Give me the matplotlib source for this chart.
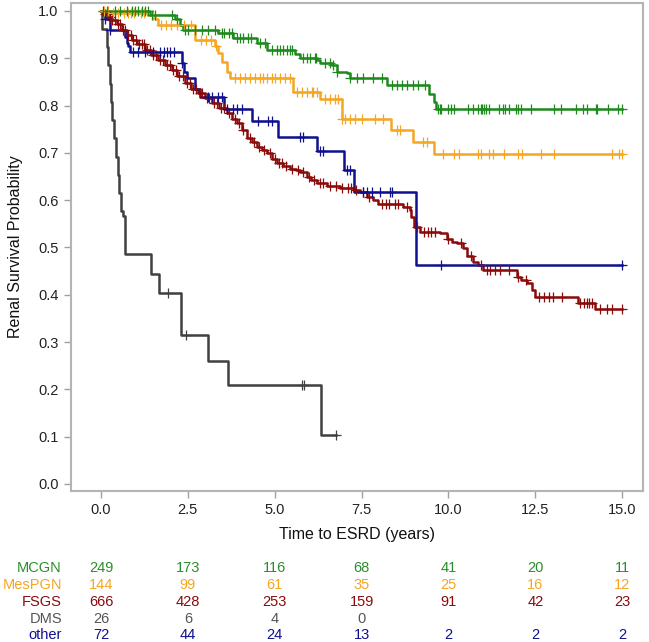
import numpy as np
import matplotlib
matplotlib.use('Agg')
import matplotlib.pyplot as plt
import matplotlib.transforms as mtransforms

plt.rcParams['font.family'] = ['Liberation Sans', 'DejaVu Sans']

# ---- data ----
groups = ['MCGN', 'MesPGN', 'FSGS', 'DMS', 'other']
colors = ['#1e8a1e', '#f5a623', '#8b0a0a', '#404040', '#10108f']

mcgn_t = [0, 1.41, 2.13, 2.27, 2.37, 3.38, 3.81, 4.48, 4.77, 5.59, 5.73, 6.21, 6.31,
          6.64, 6.78, 7.07, 7.17, 8.22, 9.43, 9.57, 9.64]
mcgn_s = [1.0, 0.991, 0.984, 0.970, 0.960, 0.953, 0.942, 0.932, 0.918, 0.910, 0.900,
          0.896, 0.889, 0.886, 0.872, 0.868, 0.858, 0.844, 0.824, 0.808, 0.792]
mcgn_cens = [0.16, 0.4, 0.55, 0.74, 0.88, 0.98, 1.07, 1.17, 1.27, 1.36, 1.46, 1.55,
             2.03, 2.18, 2.42, 2.51, 2.71, 2.9, 3.09, 3.28, 3.47, 3.53, 3.67, 3.76,
             3.9, 4.0, 4.08, 4.24, 4.33, 4.58, 4.72, 4.91, 5.06, 5.15, 5.25, 5.35,
             5.44, 5.49, 5.82, 5.92, 6.02, 6.16, 6.2, 6.45, 6.59, 6.69, 6.78, 7.17,
             7.36, 7.55, 7.84, 8.08, 8.37, 8.51, 8.66, 8.8, 8.99, 9.13, 9.33, 9.7,
             9.75, 9.8, 9.98, 10.07, 10.17, 10.55, 10.7, 10.84, 10.94, 10.98, 11.03,
             11.08, 11.17, 11.46, 11.56, 11.62, 11.75, 11.94, 11.99, 12.08, 12.37,
             13.04, 13.23, 13.66, 13.86, 14.0, 14.24, 14.29, 14.58, 14.87, 15.0]

mespgn_t = [0, 0.21, 1.36, 1.55, 1.65, 2.71, 3.28, 3.38, 3.47, 3.62, 3.71, 5.54,
            6.31, 6.93, 8.34, 8.99, 9.57]
mespgn_s = [1.0, 0.995, 0.991, 0.984, 0.970, 0.939, 0.925, 0.911, 0.893, 0.872,
            0.858, 0.828, 0.813, 0.772, 0.748, 0.724, 0.697]
mespgn_cens = [0.1, 0.2, 0.34, 0.48, 0.67, 0.77, 0.86, 0.96, 1.15, 1.25, 1.49,
               1.73, 1.87, 2.01, 2.2, 2.39, 2.59, 2.88, 3.02, 3.17, 3.31,
               3.86, 4.0, 4.14, 4.29, 4.43, 4.58, 4.67, 4.77, 4.91, 5.01, 5.15,
               5.3, 5.44, 5.63, 5.78, 5.92, 6.07, 6.11, 6.21, 6.45, 6.59, 6.74,
               6.83, 6.93, 7.03, 7.17, 7.31, 7.5, 7.89, 8.13, 8.51, 8.61, 9.28,
               9.38, 9.84, 10.17, 10.31, 10.84, 10.94, 11.17, 11.27, 11.6, 11.99,
               12.12, 12.66, 13.04, 14.71, 14.9, 15.0]

fsgs_t = [0, 0.1, 0.2, 0.31, 0.45, 0.6, 0.75, 0.88, 1.05, 1.27, 1.45, 1.65, 1.85,
          2.03, 2.2, 2.42, 2.6, 2.8, 3.0, 3.19, 3.4, 3.62, 3.78, 3.91, 4.05, 4.2,
          4.35, 4.48, 4.62, 4.77, 4.92, 5.06, 5.25, 5.44, 5.6, 5.73, 5.92, 6.05,
          6.21, 6.5, 6.88, 7.27, 7.46, 7.65, 7.84, 7.98, 8.7, 8.9, 8.93, 9.0, 9.18,
          9.76, 9.95, 10.1, 10.24, 10.43, 10.53, 10.72, 10.85, 11.0, 11.97, 12.1,
          12.26, 12.4, 12.5, 13.74, 14.22]
fsgs_s = [1.0, 0.994, 0.987, 0.981, 0.972, 0.960, 0.950, 0.939, 0.930, 0.918,
          0.907, 0.896, 0.886, 0.875, 0.862, 0.847, 0.836, 0.826, 0.815, 0.805,
          0.795, 0.784, 0.772, 0.763, 0.748, 0.731, 0.722, 0.713, 0.706, 0.699,
          0.688, 0.678, 0.672, 0.667, 0.663, 0.660, 0.650, 0.643, 0.636, 0.629,
          0.625, 0.622, 0.618, 0.607, 0.600, 0.593, 0.586, 0.579, 0.565, 0.544,
          0.533, 0.530, 0.519, 0.512, 0.509, 0.498, 0.481, 0.470, 0.462, 0.452,
          0.438, 0.431, 0.424, 0.410, 0.396, 0.382, 0.371]
fsgs_cens = [0.05, 0.12, 0.18, 0.25, 0.33, 0.4, 0.48, 0.55, 0.62, 0.7, 0.78, 0.85,
             0.93, 1.0, 1.1, 1.18, 1.25, 1.33, 1.4, 1.5, 1.58, 1.7, 1.78, 1.9,
             1.98, 2.08, 2.15, 2.25, 2.35, 2.48, 2.55, 2.65, 2.72, 2.85, 2.92, 3.05,
             3.12, 3.25, 3.33, 3.45, 3.55, 3.68, 3.85, 3.98, 4.1, 4.28, 4.4, 4.55,
             4.7, 4.85, 5.0, 5.12, 5.2, 5.32, 5.5, 5.67, 5.8, 5.98, 6.12, 6.3, 6.4,
             6.6, 6.75, 6.95, 7.1, 7.2, 7.35, 7.55, 7.72, 8.1, 8.2, 8.3, 8.45, 8.55,
             8.8, 9.1, 9.3, 9.4, 9.5, 9.62, 10.0, 10.35, 10.65, 10.95, 11.1, 11.2,
             11.35, 11.48, 11.75, 12.0, 12.22, 12.6, 12.75, 12.88, 13.0, 13.28,
             13.8, 13.9, 14.0, 14.06, 14.12, 14.35, 14.55, 14.7, 15.0]

dms_t = [0, 0.03, 0.16, 0.2, 0.25, 0.29, 0.33, 0.37, 0.42, 0.48, 0.53, 0.58, 0.64,
         0.7, 1.43, 1.68, 2.29, 2.31, 3.07, 3.66, 6.33]
dms_s = [1.0, 0.962, 0.923, 0.885, 0.846, 0.808, 0.769, 0.731, 0.692, 0.654,
         0.615, 0.577, 0.567, 0.486, 0.445, 0.403, 0.36, 0.314, 0.261, 0.209, 0.104]
dms_cens = [1.92, 2.44, 5.78, 5.84, 6.77]

other_t = [0, 0.12, 0.26, 0.69, 0.74, 0.79, 0.84, 2.32, 2.4, 2.47, 2.71, 2.85,
           3.54, 4.34, 5.08, 6.21, 6.98, 7.28, 9.07]
other_s = [1.0, 0.984, 0.96, 0.946, 0.932, 0.925, 0.914, 0.889, 0.872, 0.858,
           0.836, 0.818, 0.793, 0.767, 0.734, 0.703, 0.664, 0.618, 0.463]
other_cens = [0.12, 0.26, 0.93, 1.07, 1.27, 1.51, 1.7, 1.8, 1.89, 1.99, 2.09,
              2.32, 3.09, 3.19, 3.38, 3.47, 3.62, 3.81, 3.9, 4.05, 4.53, 4.82,
              4.92, 5.73, 5.82, 6.3, 6.4, 7.07, 7.17, 7.55, 7.65, 7.8, 8.03,
              8.32, 8.37, 9.78, 15.0]

curve_t = [mcgn_t, mespgn_t, fsgs_t, dms_t, other_t]
curve_s = [mcgn_s, mespgn_s, fsgs_s, dms_s, other_s]
curve_cens = [mcgn_cens, mespgn_cens, fsgs_cens, dms_cens, other_cens]
curve_end = [15.0, 15.0, 15.0, 6.77, 15.0]

risk_times = [0, 2.5, 5, 7.5, 10, 12.5, 15]
at_risk = [
    ['249', '173', '116', '68', '41', '20', '11'],
    ['144', '99', '61', '35', '25', '16', '12'],
    ['666', '428', '253', '159', '91', '42', '23'],
    ['26', '6', '4', '0', '', '', ''],
    ['72', '44', '24', '13', '2', '2', '2'],
]


def surv_at(t, ts, ss):
    idx = np.searchsorted(ts, t, side='right') - 1
    return np.asarray(ss)[idx]


W, H = 649, 642
fig = plt.figure(figsize=(W / 100, H / 100), dpi=100)
ax = fig.add_axes([71 / W, 1 - 491 / H, (643 - 71) / W, (491 - 3) / H])

# draw order: DMS under the others, blue over red
order = [3, 2, 4, 1, 0]
for i in order:
    ts = list(curve_t[i]) + [curve_end[i]]
    ss = list(curve_s[i]) + [curve_s[i][-1]]
    ax.step(ts, ss, where='post', color=colors[i], lw=1.8, zorder=3)
    cy = surv_at(np.array(curve_cens[i]), curve_t[i], curve_s[i])
    ax.plot(curve_cens[i], cy, ls='none', marker='+', ms=7, mew=0.9,
            color=colors[i], zorder=4)

ax.set_xlim(-0.864, 15.6)
ax.set_ylim(-0.0148, 1.0169)
ax.set_xticks(risk_times)
ax.set_xticklabels(['0.0', '2.5', '5.0', '7.5', '10.0', '12.5', '15.0'])
ax.set_yticks(np.arange(0, 1.01, 0.1))
ax.set_yticklabels(['%.1f' % v for v in np.arange(0, 1.01, 0.1)])
ax.tick_params(direction='out', length=5, width=1, color='#a0a0a0',
               labelsize=10.5, labelcolor='#222222', pad=4)
for sp in ax.spines.values():
    sp.set_color('#b4b4b4')
    sp.set_linewidth(1.5)

ax.set_xlabel('Time to ESRD (years)', fontsize=11.5, color='#111111', labelpad=7)
ax.set_ylabel('Renal Survival Probability', fontsize=11.5, color='#111111', labelpad=11)

# number-at-risk table
trans = mtransforms.blended_transform_factory(ax.transData, fig.transFigure)
row_y = [568, 585, 602, 619, 635]
txt_colors = ['#2a8f2a', '#f5a623', '#8b0a0a', '#555555', '#10108f']
for r in range(len(groups)):
    yf = 1 - row_y[r] / H
    fig.text(62 / W, yf, groups[r], ha='right', va='center', fontsize=10.5,
             color=txt_colors[r])
    for c, tv in enumerate(risk_times):
        if at_risk[r][c]:
            ax.text(tv, yf, at_risk[r][c], transform=trans, ha='center',
                    va='center', fontsize=10.5, color=txt_colors[r])

fig.savefig('out.png', dpi=100)
